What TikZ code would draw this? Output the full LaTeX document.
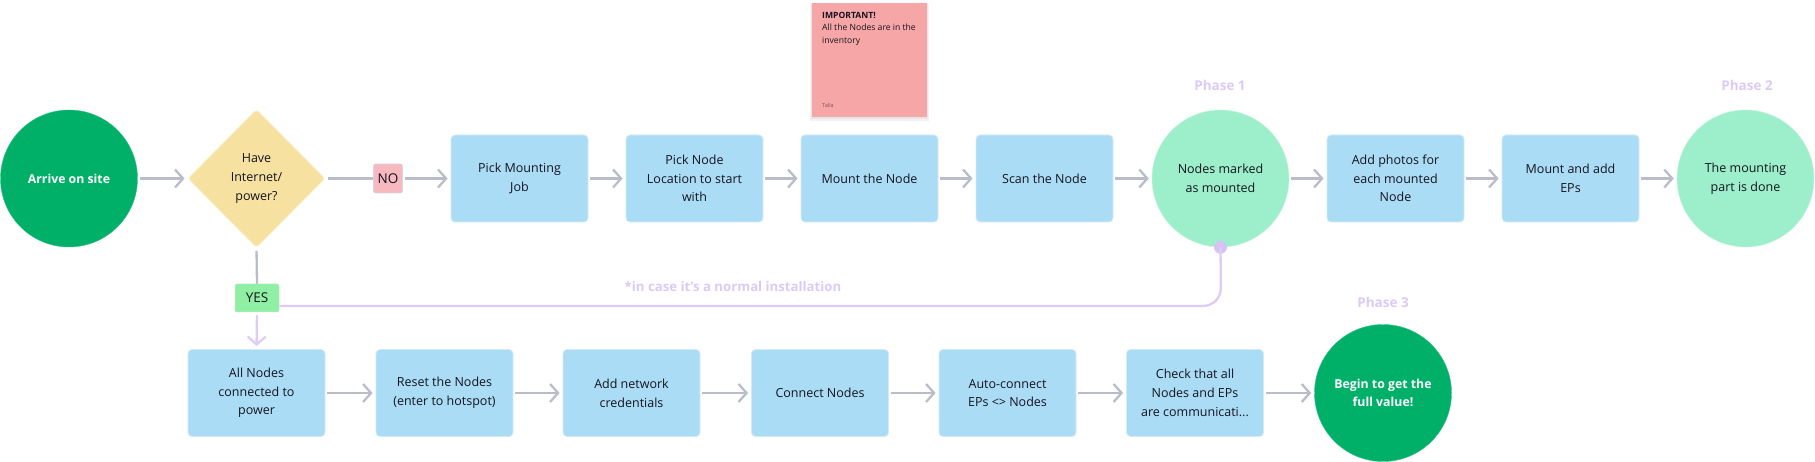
\documentclass[tikz,border=0pt]{standalone}
\usepackage{fontspec}
\setmainfont{Open Sans}
\usetikzlibrary{arrows.meta,shapes.geometric,calc}
\definecolor{dgreen}{HTML}{00B068}
\definecolor{lgreen}{HTML}{9DEFCB}
\definecolor{lgreenedge}{HTML}{C4F4DE}
\definecolor{boxblue}{HTML}{ABDCF6}
\definecolor{boxedge}{HTML}{D2EAF8}
\definecolor{dyellow}{HTML}{F6E1A1}
\definecolor{dyedge}{HTML}{F9EDC4}
\definecolor{nopink}{HTML}{F7B8C0}
\definecolor{yesgreen}{HTML}{8FF0A4}
\definecolor{sticky}{HTML}{F6A6A6}
\definecolor{agray}{HTML}{B9BDCA}
\definecolor{lav}{HTML}{DDCDF6}
\definecolor{lavdot}{HTML}{D5C3F3}
\definecolor{lavtext}{HTML}{DACAF6}
\definecolor{ink}{HTML}{14141F}
\begin{document}
\begin{tikzpicture}[x=1pt,y=-1pt,
  stepbox/.style={rectangle, rounded corners=4pt, fill=boxblue, draw=boxedge, line width=0.8pt,
    minimum width=137pt, minimum height=87pt, align=center, text=ink, inner sep=2pt,
    font=\fontsize{12.5}{18.7}\selectfont},
  bigcirc/.style={circle, minimum size=137pt, inner sep=0pt, align=center,
    font=\fontsize{12.5}{18.7}\selectfont},
  darkcirc/.style={bigcirc, fill=dgreen, draw=dgreen!80!white, text=white, font=\bfseries\fontsize{12.3}{18.7}\selectfont},
  lightcirc/.style={bigcirc, fill=lgreen, draw=lgreenedge, text=ink},
  decision/.style={diamond, fill=dyellow, draw=dyedge, line width=0.8pt, minimum width=137pt, minimum height=138pt,
    inner sep=0pt, rounded corners=3pt, align=center, text=ink, font=\fontsize{12.5}{18.7}\selectfont},
  tagbox/.style={rectangle, rounded corners=2pt, inner sep=0pt, text=ink, font=\fontsize{13.5}{16}\selectfont},
  arr/.style={draw=agray, line width=2.3pt, shorten <=2pt, shorten >=3pt,
    -{Straight Barb[length=8pt,width=18pt,line width=2.3pt]}},
  gline/.style={draw=agray, line width=2.3pt},
  pline/.style={draw=lav, line width=2.3pt},
  parr/.style={pline, shorten <=3pt, shorten >=3pt, -{Straight Barb[length=8pt,width=18pt,line width=2.3pt]}},
  phase/.style={text=lavtext, font=\bfseries\fontsize{13.5}{16}\selectfont},
  note/.style={text=lavtext, font=\bfseries\fontsize{13.2}{16}\selectfont}
]
\useasboundingbox (0,0) rectangle (1815,462);

% sticky note
\fill[black, opacity=0.05] (810,4) rectangle (929,121);
\fill[black, opacity=0.05] (811,4) rectangle (928,119);
\node[rectangle, fill=sticky, minimum width=115pt, minimum height=114pt, inner sep=0pt, anchor=north west] (sticky) at (812,3) {};
\node[anchor=north west, align=left, inner sep=0pt, text=ink, font=\fontsize{8.6}{12.5}\selectfont] (stickytext) at (822,12)
  {\textbf{IMPORTANT!}\\All the Nodes are in the\\inventory};
\node[anchor=west, inner sep=0pt, text=ink!55!sticky, font=\fontsize{5.5}{7}\selectfont] (stickyauthor) at (822,105) {Talia};

% row 1
\node[darkcirc] (arrive) at (69,178.5) {Arrive on site};
\node[decision] (dec) at (256.5,178.5) {Have\\Internet/\\power?};
\node[tagbox, fill=nopink, draw=agray!60, line width=0.6pt, minimum width=29pt, minimum height=29pt] (no) at (388,178.5) {NO};
\node[stepbox] (pm) at (519.5,178.5) {Pick Mounting\\Job};
\node[stepbox] (pn) at (694.5,178.5) {Pick Node\\Location to start\\with};
\node[stepbox] (mn) at (869.5,178.5) {Mount the Node};
\node[stepbox] (sn) at (1044.5,178.5) {Scan the Node};
\node[lightcirc] (nm) at (1220.5,178.5) {Nodes marked\\as mounted};
\node[stepbox] (ap) at (1395.5,178.5) {Add photos for\\each mounted\\Node};
\node[stepbox] (me) at (1570.5,178.5) {Mount and add\\EPs};
\node[lightcirc] (done) at (1745.5,178.5) {The mounting\\part is done};

\node[phase] (ph1) at (1220,85) {Phase 1};
\node[phase] (ph2) at (1747,85) {Phase 2};
\node[phase] (ph3) at (1383,302) {Phase 3};

% yes
\node[tagbox, fill=yesgreen, draw=yesgreen!80!black!40, line width=0.5pt, minimum width=44pt, minimum height=28pt] (yes) at (257,298) {YES};

% row 2
\node[stepbox] (an) at (256.5,393) {All Nodes\\connected to\\power};
\node[stepbox] (rs) at (444.5,393) {Reset the Nodes\\(enter to hotspot)};
\node[stepbox] (nw) at (631.5,393) {Add network\\credentials};
\node[stepbox] (cn) at (820,393) {Connect Nodes};
\node[stepbox] (ac) at (1007.5,393) {Auto-connect\\EPs <> Nodes};
\node[stepbox] (ck) at (1195,393) {Check that all\\Nodes and EPs\\are communicati...};
\node[darkcirc] (bg) at (1383,393) {Begin to get the\\full value!};

% connectors row 1
\draw[arr] (arrive) -- (dec);
\draw[gline, shorten <=3pt] (dec.east) -- (no.west);
\draw[arr] (no) -- (pm);
\draw[arr] (pm) -- (pn);
\draw[arr] (pn) -- (mn);
\draw[arr] (mn) -- (sn);
\draw[arr] (sn) -- (nm);
\draw[arr] (nm) -- (ap);
\draw[arr] (ap) -- (me);
\draw[arr] (me) -- (done);

% decision to yes
\draw[gline, shorten <=3pt] (dec.south) -- (yes.north);
\draw[parr] (yes.south) -- (an.north);

% purple bypass
\coordinate (bend) at (1221,306);
\node[circle, fill=lavdot, inner sep=0pt, minimum size=13pt] (dot) at (nm.south) {};
\draw[pline, rounded corners=18pt] (yes.east |- bend) -- (bend) -- (dot.center);
\node[note] (casenote) at (733,287) {*in case it's a normal installation};

% connectors row 2
\draw[arr] (an) -- (rs);
\draw[arr] (rs) -- (nw);
\draw[arr] (nw) -- (cn);
\draw[arr] (cn) -- (ac);
\draw[arr] (ac) -- (ck);
\draw[arr] (ck) -- (bg);
\end{tikzpicture}
\end{document}
